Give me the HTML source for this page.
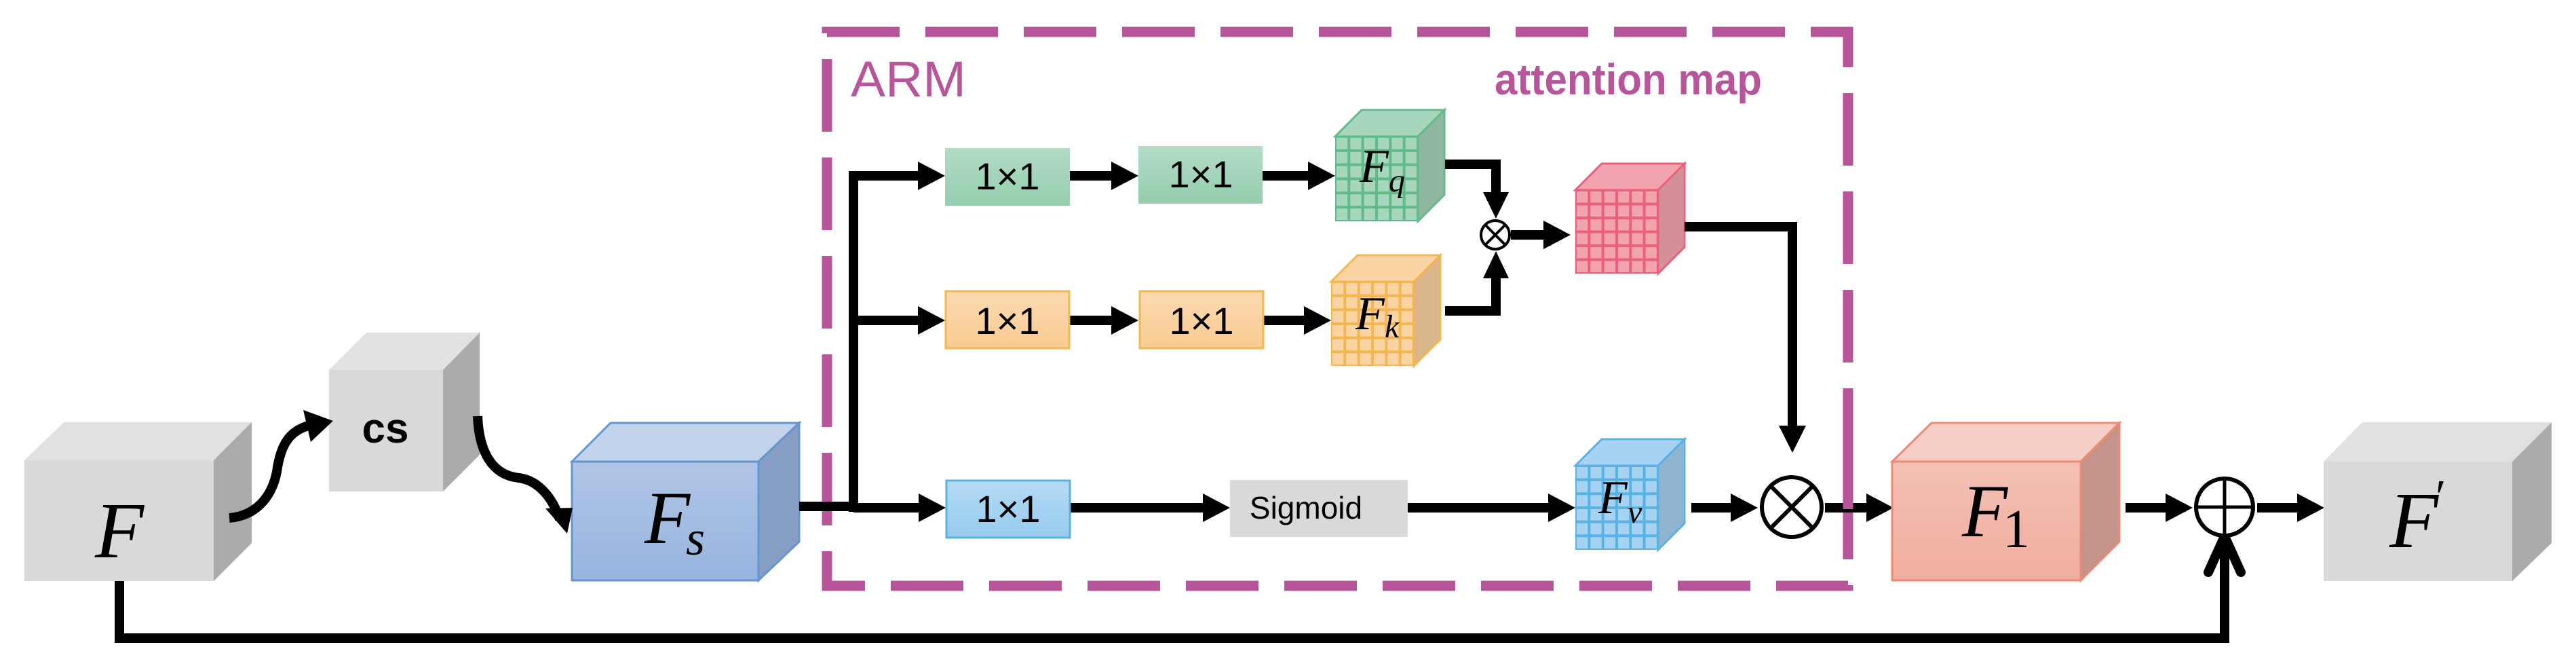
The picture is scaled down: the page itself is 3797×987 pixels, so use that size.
<!DOCTYPE html>
<html><head><meta charset="utf-8"><style>html,body{margin:0;padding:0;background:#fff}svg{display:block}</style></head>
<body>
<svg width="3797" height="987" viewBox="0 0 3797 987" xmlns="http://www.w3.org/2000/svg">
<defs>
<linearGradient id="gg" x1="0" y1="0" x2="0" y2="1"><stop offset="0" stop-color="#b2dcc6"/><stop offset="1" stop-color="#95cdad"/></linearGradient>
<linearGradient id="go" x1="0" y1="0" x2="0" y2="1"><stop offset="0" stop-color="#fbdab0"/><stop offset="1" stop-color="#f8cb92"/></linearGradient>
<linearGradient id="gb" x1="0" y1="0" x2="0" y2="1"><stop offset="0" stop-color="#b4dbf4"/><stop offset="1" stop-color="#97caee"/></linearGradient>
<linearGradient id="gfs" x1="0" y1="0" x2="0" y2="1"><stop offset="0" stop-color="#b0c5e6"/><stop offset="1" stop-color="#97b4df"/></linearGradient>
<linearGradient id="gf1" x1="0" y1="0" x2="0" y2="1"><stop offset="0" stop-color="#f4c0b5"/><stop offset="1" stop-color="#f0ae9f"/></linearGradient>
<pattern id="pq" x="1968" y="201" width="20.33" height="20.83" patternUnits="userSpaceOnUse"><rect width="20.33" height="20.83" fill="#62ba8b"/><rect x="2" y="2" width="16.3" height="16.8" fill="#a6d7bc"/></pattern>
<pattern id="pk" x="1962" y="415" width="20.33" height="20.67" patternUnits="userSpaceOnUse"><rect width="20.33" height="20.67" fill="#f4b650"/><rect x="2" y="2" width="16.3" height="16.6" fill="#fad5a3"/></pattern>
<pattern id="pr" x="2322" y="280" width="20.33" height="20.5" patternUnits="userSpaceOnUse"><rect width="20.33" height="20.5" fill="#e8607a"/><rect x="2" y="2" width="16.3" height="16.5" fill="#f2a3af"/></pattern>
<pattern id="pv" x="2322" y="686" width="20.33" height="20.67" patternUnits="userSpaceOnUse"><rect width="20.33" height="20.67" fill="#5ab2e4"/><rect x="2" y="2" width="16.3" height="16.6" fill="#a6d3f2"/></pattern>
</defs>

<rect x="1219" y="47" width="1505" height="816" fill="none" stroke="#b8549a" stroke-width="15" stroke-dasharray="107 38"/>
<text x="1254" y="142" font-family="Liberation Sans, sans-serif" font-size="74" fill="#b8549a" textLength="170" lengthAdjust="spacingAndGlyphs">ARM</text>
<text x="2203" y="139" font-family="Liberation Sans, sans-serif" font-weight="bold" font-size="64" fill="#b8549a" textLength="394" lengthAdjust="spacingAndGlyphs">attention map</text>

<polygon points="36,678 94,622 371,622 315,678" fill="#e1e1e1"/>
<polygon points="315,678 371,622 371,800 315,856" fill="#ababab"/>
<rect x="36" y="678" width="279" height="178" fill="#d9d9d9"/>
<text x="140" y="821" font-family="Liberation Serif, serif" font-style="italic" font-size="118">F</text>

<polygon points="485,545 540,490 707,490 653,545" fill="#e1e1e1"/>
<polygon points="653,545 707,490 707,670 653,724" fill="#ababab"/>
<rect x="485" y="545" width="168" height="179" fill="#d9d9d9"/>
<text x="568" y="652" text-anchor="middle" font-family="Liberation Sans, sans-serif" font-weight="bold" font-size="62">cs</text>

<polygon points="843,680 900,623 1178,623 1118,680" fill="#c2d3ec" stroke="#6495cf" stroke-width="3"/>
<polygon points="1118,680 1178,623 1178,798 1118,855" fill="#879ec4" stroke="#6495cf" stroke-width="3"/>
<rect x="843" y="680" width="275" height="175" fill="url(#gfs)" stroke="#6495cf" stroke-width="3"/>
<text x="950" y="800" font-family="Liberation Serif, serif" font-style="italic" font-size="110">F</text>
<text x="1011" y="817" font-family="Liberation Serif, serif" font-style="italic" font-size="72">s</text>

<path d="M338,763 C375,760 400,735 408,695 C414,650 430,632 462,625" fill="none" stroke="#000" stroke-width="14"/>
<polygon points="491,620 447,604 458,651" fill="#000"/>
<path d="M704,613 C706,665 725,700 765,704 C795,708 815,735 825,765" fill="none" stroke="#000" stroke-width="14"/>
<polygon points="836,786 804,749 844,748" fill="#000"/>

<line x1="1178" y1="746" x2="1265" y2="746" stroke="#000" stroke-width="14"/>
<line x1="1258" y1="252" x2="1258" y2="754" stroke="#000" stroke-width="14"/>

<g stroke="#000" stroke-width="14">
<line x1="1251" y1="259" x2="1360" y2="259"/>
<line x1="1576" y1="259" x2="1645" y2="259"/>
<line x1="1861" y1="259" x2="1935" y2="259"/>
<line x1="1258" y1="472" x2="1360" y2="472"/>
<line x1="1576" y1="472" x2="1645" y2="472"/>
<line x1="1863" y1="472" x2="1929" y2="472"/>
<line x1="1258" y1="748" x2="1361" y2="748"/>
<line x1="1578" y1="748" x2="1780" y2="748"/>
<line x1="2075" y1="748" x2="2289" y2="748"/>
</g>
<g fill="#000">
<polygon points="1353,238 1393,259 1353,280"/>
<polygon points="1638,238 1678,259 1638,280"/>
<polygon points="1928,238 1968,259 1928,280"/>
<polygon points="1353,451 1393,472 1353,493"/>
<polygon points="1638,451 1678,472 1638,493"/>
<polygon points="1922,451 1962,472 1922,493"/>
<polygon points="1354,727 1394,748 1354,769"/>
<polygon points="1773,727 1813,748 1773,769"/>
<polygon points="2282,727 2322,748 2282,769"/>
</g>

<g font-family="Liberation Sans, sans-serif" font-size="56" text-anchor="middle">
<rect x="1393" y="218" width="184" height="85" fill="url(#gg)"/>
<text x="1485" y="279">1×1</text>
<rect x="1678" y="215" width="183" height="85" fill="url(#gg)"/>
<text x="1770" y="276">1×1</text>
<rect x="1394" y="429" width="182" height="84" fill="url(#go)" stroke="#f4b650" stroke-width="3"/>
<text x="1485" y="492">1×1</text>
<rect x="1680" y="429" width="182" height="84" fill="url(#go)" stroke="#f4b650" stroke-width="3"/>
<text x="1771" y="492">1×1</text>
<rect x="1395" y="708" width="182" height="84" fill="url(#gb)" stroke="#5ab2e4" stroke-width="3"/>
<text x="1486" y="769">1×1</text>
<rect x="1813" y="707" width="262" height="84" fill="#d9d9d9"/>
<text x="1925" y="764" font-size="46">Sigmoid</text>
</g>

<g>
<polygon points="1968,201 2007,162 2129,162 2090,201" fill="#a6d7bc" stroke="#62ba8b" stroke-width="3"/>
<polygon points="2090,201 2129,162 2129,287 2090,326" fill="#8fb8a0" stroke="#62ba8b" stroke-width="3"/>
<rect x="1968" y="201" width="122" height="125" fill="url(#pq)"/>
<text x="2004" y="268" font-family="Liberation Serif, serif" font-style="italic" font-size="70">F</text>
<text x="2047" y="282" font-family="Liberation Serif, serif" font-style="italic" font-size="48">q</text>

<polygon points="1962,415 2001,376 2123,376 2084,415" fill="#fad5a3" stroke="#f4b650" stroke-width="3"/>
<polygon points="2084,415 2123,376 2123,500 2084,539" fill="#d8b58a" stroke="#f4b650" stroke-width="3"/>
<rect x="1962" y="415" width="122" height="124" fill="url(#pk)"/>
<text x="1998" y="485" font-family="Liberation Serif, serif" font-style="italic" font-size="70">F</text>
<text x="2041" y="497" font-family="Liberation Serif, serif" font-style="italic" font-size="48">k</text>

<polygon points="2322,280 2361,241 2483,241 2444,280" fill="#f2a3af" stroke="#e8607a" stroke-width="3"/>
<polygon points="2444,280 2483,241 2483,364 2444,403" fill="#d4909a" stroke="#e8607a" stroke-width="3"/>
<rect x="2322" y="280" width="122" height="123" fill="url(#pr)"/>

<polygon points="2322,686 2361,647 2483,647 2444,686" fill="#a6d3f2" stroke="#5ab2e4" stroke-width="3"/>
<polygon points="2444,686 2483,647 2483,771 2444,810" fill="#8fb5d0" stroke="#5ab2e4" stroke-width="3"/>
<rect x="2322" y="686" width="122" height="124" fill="url(#pv)"/>
<text x="2356" y="756" font-family="Liberation Serif, serif" font-style="italic" font-size="70">F</text>
<text x="2399" y="770" font-family="Liberation Serif, serif" font-style="italic" font-size="48">v</text>
</g>

<g stroke="#000" stroke-width="14" fill="none">
<polyline points="2130,242 2205,242 2205,290"/>
<polyline points="2130,458 2205,458 2205,402"/>
<line x1="2227" y1="346" x2="2285" y2="346"/>
<polyline points="2483,334 2642,334 2642,630"/>
<line x1="2493" y1="748" x2="2560" y2="748"/>
<line x1="2690" y1="748" x2="2760" y2="748"/>
<line x1="3133" y1="748" x2="3200" y2="748"/>
<line x1="3327" y1="748" x2="3395" y2="748"/>
<polyline points="176,856 176,940 3279,940 3279,800"/>
</g>
<g fill="#000">
<polygon points="2186,283 2205,322 2224,283"/>
<polygon points="2186,410 2205,370 2224,410"/>
<polygon points="2275,325 2315,346 2275,367"/>
<polygon points="2622,627 2642,667 2662,627"/>
<polygon points="2551,727 2591,748 2551,769"/>
<polygon points="2751,727 2791,748 2751,769"/>
<polygon points="3192,727 3232,748 3192,769"/>
<polygon points="3386,727 3426,748 3386,769"/>
</g>
<path d="M3255,843 L3279,790 L3303,843" fill="none" stroke="#000" stroke-width="14" stroke-linecap="round" stroke-linejoin="round"/>

<circle cx="2204" cy="346" r="21" fill="#fff" stroke="#000" stroke-width="4"/>
<path d="M2190,332 L2218,360 M2218,332 L2190,360" stroke="#000" stroke-width="4"/>
<circle cx="2641" cy="747" r="44" fill="#fff" stroke="#000" stroke-width="6"/>
<path d="M2610,716 L2672,778 M2672,716 L2610,778" stroke="#000" stroke-width="6"/>
<circle cx="3279" cy="747" r="42" fill="#fff" stroke="#000" stroke-width="6"/>
<path d="M3237,747 L3321,747 M3279,705 L3279,789" stroke="#000" stroke-width="5"/>

<line x1="2724" y1="640" x2="2724" y2="750" stroke="#b8549a" stroke-width="15"/>

<polygon points="2789,680 2847,623 3124,623 3067,680" fill="#f5cec5" stroke="#ee8a74" stroke-width="3"/>
<polygon points="3067,680 3124,623 3124,798 3067,855" fill="#c4948b" stroke="#ee8a74" stroke-width="3"/>
<rect x="2789" y="680" width="278" height="175" fill="url(#gf1)" stroke="#ee8a74" stroke-width="3"/>
<text x="2892" y="790" font-family="Liberation Serif, serif" font-style="italic" font-size="110">F</text>
<text x="2952" y="806" font-family="Liberation Serif, serif" font-size="80">1</text>

<polygon points="3425,680 3482,622 3761,622 3703,680" fill="#e1e1e1"/>
<polygon points="3703,680 3761,622 3761,800 3703,856" fill="#ababab"/>
<rect x="3425" y="680" width="278" height="176" fill="#d9d9d9"/>
<text x="3522" y="806" font-family="Liberation Serif, serif" font-style="italic" font-size="118">F</text>
<text x="3590" y="755" font-family="Liberation Serif, serif" font-size="70">′</text>
</svg>
</body></html>
